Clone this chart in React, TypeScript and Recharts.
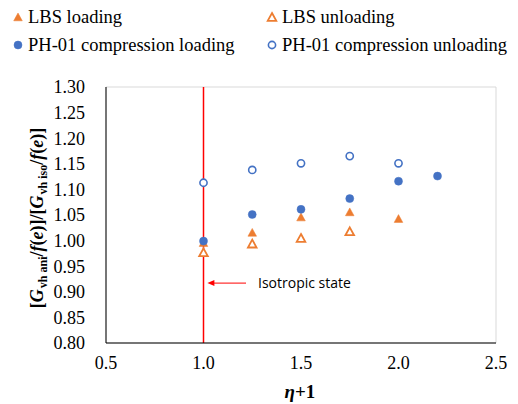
import React from 'react';
import {
  ScatterChart, Scatter, XAxis, YAxis, CartesianGrid, ReferenceLine,
} from 'recharts';

const BLUE = '#4472C4';
const ORANGE = '#ED7D31';
const SERIF = '"Liberation Serif", "Times New Roman", serif';

const xTicks = [0.5, 1.0, 1.5, 2.0, 2.5];
const yTicks = [0.8, 0.85, 0.9, 0.95, 1.0, 1.05, 1.1, 1.15, 1.2, 1.25, 1.3];

const etaLbsLoading = [1.0, 1.25, 1.5, 1.75, 2.0];
const lbsLoading = [0.995, 1.015, 1.045, 1.055, 1.042];
const etaLbsUnloading = [1.0, 1.25, 1.5, 1.75];
const lbsUnloading = [0.976, 0.993, 1.004, 1.017];
const etaPhLoading = [1.0, 1.25, 1.5, 1.75, 2.0, 2.2];
const phLoading = [0.999, 1.051, 1.061, 1.082, 1.116, 1.126];
const etaPhUnloading = [1.0, 1.25, 1.5, 1.75, 2.0];
const phUnloading = [1.113, 1.138, 1.151, 1.165, 1.151];

const zip = (xs: number[], ys: number[]) => xs.map((x, i) => ({ x, y: ys[i] }));

const Tri = ({ cx, cy, filled }: any) => (
  <polygon
    points={`${cx},${cy - 4.5} ${cx + 4.3},${cy + 3.3} ${cx - 4.3},${cy + 3.3}`}
    fill={filled ? ORANGE : '#fff'}
    stroke={ORANGE}
    strokeWidth={filled ? 0.5 : 1.8}
    strokeLinejoin="miter"
  />
);

const Dot = ({ cx, cy, filled }: any) => (
  <circle cx={cx} cy={cy} r={filled ? 4 : 3.6} fill={filled ? BLUE : '#fff'} stroke={BLUE} strokeWidth={filled ? 0.5 : 1.6} />
);

const legendItems = [
  { label: 'LBS loading', icon: 'tri', filled: true, left: 12, top: 17 },
  { label: 'LBS unloading', icon: 'tri', filled: false, left: 266, top: 17 },
  { label: 'PH-01 compression loading', icon: 'dot', filled: true, left: 12, top: 45 },
  { label: 'PH-01 compression unloading', icon: 'dot', filled: false, left: 266, top: 45 },
];

const YLabel = () => (
  <text
    transform="translate(43,218) rotate(-90)"
    textAnchor="middle"
    fontFamily={SERIF}
    fontWeight="bold"
    fontSize={18}
    fill="#000"
  >
    <tspan>[</tspan>
    <tspan fontStyle="italic">G</tspan>
    <tspan fontSize={12} dx={1} dy={4}>vh ani</tspan>
    <tspan dy={-4}>/</tspan>
    <tspan fontStyle="italic">f</tspan>
    <tspan>(</tspan>
    <tspan fontStyle="italic">e</tspan>
    <tspan>)]/[</tspan>
    <tspan fontStyle="italic">G</tspan>
    <tspan fontSize={12} dx={1} dy={4}>vh iso</tspan>
    <tspan dy={-4}>/</tspan>
    <tspan fontStyle="italic">f</tspan>
    <tspan>(</tspan>
    <tspan fontStyle="italic">e</tspan>
    <tspan>)]</tspan>
  </text>
);

const XLabel = () => (
  <text x={300} y={398} textAnchor="middle" fontFamily={SERIF} fontWeight="bold" fontSize={19} fill="#000">
    <tspan fontStyle="italic">η</tspan>
    <tspan>+1</tspan>
  </text>
);

const ArrowNote = (props: any) => {
  const { x1, y1, x2, y2 } = props;
  return (
    <g>
      <line x1={x1} y1={y1} x2={x2 + 6} y2={y2} stroke="#FF0000" strokeWidth={1} />
      <polygon points={`${x2},${y2} ${x2 + 7},${y2 - 3} ${x2 + 7},${y2 + 3}`} fill="#FF0000" />
      <text x={x1 + 12} y={y1 + 5} fontFamily='"Open Sans", "Liberation Sans", sans-serif' fontSize={14} fill="#000">
        Isotropic state
      </text>
    </g>
  );
};

export default function App() {
  return (
    <div style={{ position: 'absolute', left: 0, top: 0, width: 518, height: 404, background: '#fff' }}>
      {legendItems.map((it) => (
        <div
          key={it.label}
          style={{
            position: 'absolute', left: it.left, top: it.top - 11, height: 22,
            display: 'flex', alignItems: 'center', fontFamily: SERIF, fontSize: 18.5, color: '#000', whiteSpace: 'nowrap',
          }}
        >
          <svg width={14} height={14} style={{ marginRight: 2 }}>
            {it.icon === 'tri' ? <Tri cx={6} cy={7.5} filled={it.filled} /> : <Dot cx={6} cy={7} filled={it.filled} />}
          </svg>
          {it.label}
        </div>
      ))}
      <ScatterChart width={518} height={404} margin={{ top: 87, right: 22, bottom: 0, left: 0 }}>
        <CartesianGrid stroke="#D9D9D9" strokeWidth={1} />
        <XAxis
          xAxisId="b" type="number" dataKey="x" domain={[0.5, 2.5]} ticks={xTicks} interval={0}
          tickFormatter={(v: number) => v.toFixed(1)} height={61}
          stroke="#000" tickLine={false} tickSize={0} tickMargin={13}
          tick={{ fill: '#000', fontFamily: SERIF, fontSize: 18 }}
          label={<XLabel />}
        />
        <XAxis xAxisId="t" orientation="top" type="number" domain={[0.5, 2.5]} height={0} tick={false} tickLine={false} stroke="#000" />
        <YAxis
          yAxisId="l" type="number" dataKey="y" domain={[0.8, 1.3]} ticks={yTicks} interval={0}
          tickFormatter={(v: number) => v.toFixed(2)} width={106}
          stroke="#000" tickLine={false} tickSize={0} tickMargin={21}
          tick={{ fill: '#000', fontFamily: SERIF, fontSize: 18 }}
          label={<YLabel />}
        />
        <YAxis yAxisId="r" orientation="right" type="number" domain={[0.8, 1.3]} width={0} tick={false} tickLine={false} stroke="#555" />
        <ReferenceLine xAxisId="b" yAxisId="l" x={1.0} stroke="#FF0000" strokeWidth={1.5} />
        <ReferenceLine
          xAxisId="b" yAxisId="l"
          segment={[{ x: 1.218, y: 0.917 }, { x: 1.02, y: 0.917 }]}
          shape={<ArrowNote />}
        />
        <Scatter xAxisId="b" yAxisId="l" name="LBS loading" data={zip(etaLbsLoading, lbsLoading)} isAnimationActive={false}
          shape={(p: any) => <Tri cx={p.cx} cy={p.cy} filled />} />
        <Scatter xAxisId="b" yAxisId="l" name="LBS unloading" data={zip(etaLbsUnloading, lbsUnloading)} isAnimationActive={false}
          shape={(p: any) => <Tri cx={p.cx} cy={p.cy} filled={false} />} />
        <Scatter xAxisId="b" yAxisId="l" name="PH-01 compression loading" data={zip(etaPhLoading, phLoading)} isAnimationActive={false}
          shape={(p: any) => <Dot cx={p.cx} cy={p.cy} filled />} />
        <Scatter xAxisId="b" yAxisId="l" name="PH-01 compression unloading" data={zip(etaPhUnloading, phUnloading)} isAnimationActive={false}
          shape={(p: any) => <Dot cx={p.cx} cy={p.cy} filled={false} />} />
      </ScatterChart>
    </div>
  );
}
